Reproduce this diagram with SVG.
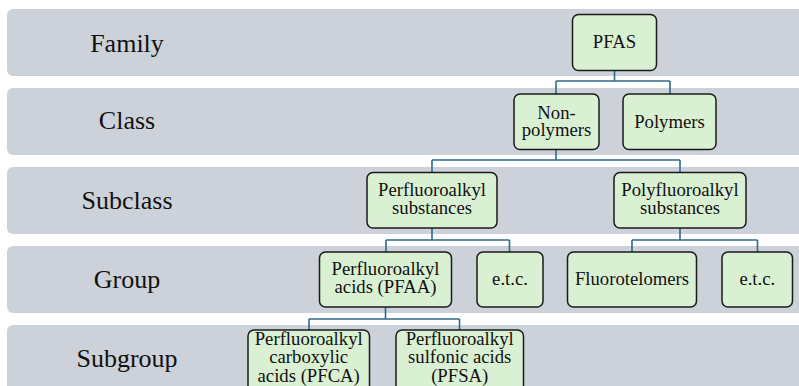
<svg xmlns="http://www.w3.org/2000/svg" width="799" height="386" viewBox="0 0 799 386">
<style>
.band{fill:#cdd1d9}
.lvl{font-family:"Liberation Serif","Times New Roman",serif;font-size:26px;fill:#111;text-anchor:middle}
.box{fill:#daf0d3;stroke:#1a1a1a;stroke-width:1.5}
.t{font-family:"Liberation Serif","Times New Roman",serif;font-size:18.7px;fill:#111;text-anchor:middle}
.conn path{fill:none;stroke:#2f6a8c;stroke-width:1.6}
</style>
<g id="bands">
<rect class="band" x="7" y="9" width="810" height="67" rx="6"/>
<rect class="band" x="7" y="88" width="810" height="67" rx="6"/>
<rect class="band" x="7" y="167" width="810" height="67" rx="6"/>
<rect class="band" x="7" y="246" width="810" height="67" rx="6"/>
<rect class="band" x="7" y="325" width="810" height="80" rx="6"/>
<text class="lvl" x="127" y="52">Family</text>
<text class="lvl" x="127" y="129">Class</text>
<text class="lvl" x="127" y="209">Subclass</text>
<text class="lvl" x="127" y="288">Group</text>
<text class="lvl" x="127" y="367">Subgroup</text>
</g>
<g class="conn" id="connectors">
<path d="M614.5 71V81M556 81H670M556 81V94M670 81V94"/>
<path d="M556 150V160M432 160H680M432 160V172M680 160V172"/>
<path d="M432 228V240M386 240H509.5M386 240V252M509.5 240V252"/>
<path d="M680 228V240M632 240H757.5M632 240V252M757.5 240V252"/>
<path d="M385.5 307V319M309 319H459.5M309 319V330M459.5 319V330"/>
</g>
<g id="pfas"><rect class="box" x="572.5" y="14.5" width="84" height="56" rx="6"/><text class="t" x="614.5" y="48">PFAS</text></g>
<g id="nonpolymers"><rect class="box" x="514" y="94" width="85" height="55.5" rx="6"/><text class="t" x="556.5" y="119">Non-</text><text class="t" x="556.5" y="135.5">polymers</text></g>
<g id="polymers"><rect class="box" x="623" y="94" width="93" height="55.5" rx="6"/><text class="t" x="669.5" y="128">Polymers</text></g>
<g id="perfluoroalkyl-substances"><rect class="box" x="367" y="172.5" width="130" height="55.5" rx="6"/><text class="t" x="432" y="196">Perfluoroalkyl</text><text class="t" x="432" y="214">substances</text></g>
<g id="polyfluoroalkyl-substances"><rect class="box" x="614" y="172.5" width="132" height="55.5" rx="6"/><text class="t" x="680" y="196">Polyfluoroalkyl</text><text class="t" x="680" y="214">substances</text></g>
<g id="pfaa"><rect class="box" x="319.5" y="252" width="132" height="55" rx="6"/><text class="t" x="385.5" y="275">Perfluoroalkyl</text><text class="t" x="385.5" y="293">acids (PFAA)</text></g>
<g id="etc1"><rect class="box" x="477" y="252" width="66" height="55" rx="6"/><text class="t" x="510" y="285">e.t.c.</text></g>
<g id="fluorotelomers"><rect class="box" x="567.5" y="252" width="129" height="55" rx="6"/><text class="t" x="632" y="285">Fluorotelomers</text></g>
<g id="etc2"><rect class="box" x="722" y="252" width="70.5" height="55" rx="6"/><text class="t" x="757.3" y="285">e.t.c.</text></g>
<g id="pfca"><rect class="box" x="248" y="330" width="121.5" height="62" rx="6"/><text class="t" x="308.7" y="345">Perfluoroalkyl</text><text class="t" x="308.7" y="363">carboxylic</text><text class="t" x="308.7" y="381.5">acids (PFCA)</text></g>
<g id="pfsa"><rect class="box" x="396" y="330" width="127.5" height="62" rx="6"/><text class="t" x="459.7" y="345">Perfluoroalkyl</text><text class="t" x="459.7" y="363">sulfonic acids</text><text class="t" x="459.7" y="381.5">(PFSA)</text></g>
</svg>
